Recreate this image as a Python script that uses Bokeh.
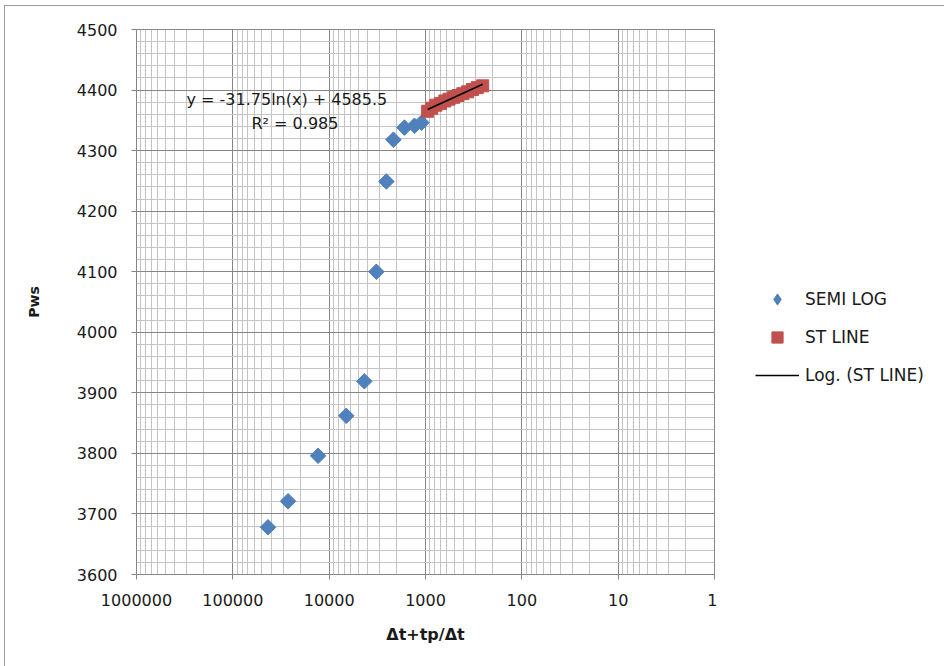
import numpy as np
from bokeh.plotting import figure
from bokeh.layouts import row
from bokeh.models import (Range1d, FixedTicker, SingleIntervalTicker, CustomJSTickFormatter,
                          Legend, LegendItem, Label)
from bokeh.embed import file_html
from bokeh.resources import INLINE

# ---- data ----
semi_log_x = [43150, 26700, 13030, 6650, 4315, 3236, 2547, 2154, 1655, 1303, 1101]
semi_log_y = [3678, 3721, 3796, 3862, 3919, 4100, 4249, 4318, 4338, 4341, 4346]

st_line_x = [950, 860, 780, 700, 630, 570, 510, 460, 410, 365, 325, 290, 255]
st_line_y = [4365, 4370, 4375, 4378, 4382, 4385, 4388, 4391, 4394, 4397, 4401, 4404, 4407]

trend_slope = -31.75
trend_intercept = 4585.5
trend_r2 = 0.985

x_major_ticks = [1, 10, 100, 1000, 10000, 100000, 1000000]
y_min, y_max, y_step = 3600, 4500, 100

# ---- derived ----
trend_x = [max(st_line_x), min(st_line_x)]
trend_y = [trend_slope * np.log(v) + trend_intercept for v in trend_x]
x_minor_ticks = [m * d for d in x_major_ticks[:-1] for m in range(2, 10)]

FONT = "DejaVu Sans"
TXT = "#1a1a1a"
MAJ = "#868686"
MIN = "#c4c4c4"
BLUE = "#4F81BD"
RED = "#C0504D"

OX, OY = 4, 5                         # outer chart border offset
FL, FR, FT, FB = 135, 713, 28, 573    # frame edges in window pixels
H = 666 - OY
W1 = FR - OX + 3
W2 = 944 - OX - W1 - 1

p = figure(width=W1, height=H, x_axis_type="log",
           x_range=Range1d(1000000, 1), y_range=Range1d(y_min, y_max),
           output_backend="svg", toolbar_location=None,
           min_border_left=FL - OX, min_border_right=3,
           min_border_top=FT - OY, min_border_bottom=666 - FB)
p.background_fill_color = "white"
p.border_fill_color = "white"
p.outline_line_color = MAJ

# x axis
p.xaxis.ticker = FixedTicker(ticks=x_major_ticks, minor_ticks=x_minor_ticks)
p.xaxis.formatter = CustomJSTickFormatter(code="return Math.round(tick).toString();")
p.xaxis.axis_label = "\u0394t+tp/\u0394t"
# y axis
p.yaxis.ticker = SingleIntervalTicker(interval=y_step, num_minor_ticks=5)

for ax in (p.xaxis[0], p.yaxis[0]):
    ax.axis_line_color = MAJ
    ax.major_tick_line_color = MAJ
    ax.major_tick_out = 5
    ax.major_tick_in = 0
    ax.minor_tick_out = 0
    ax.minor_tick_in = 0
    ax.major_label_text_font = FONT
    ax.major_label_text_font_size = "16px"
    ax.major_label_text_color = TXT
    ax.axis_label_text_font = FONT
    ax.axis_label_text_font_style = "bold"
    ax.axis_label_text_color = TXT

p.yaxis.axis_label = "Pws"
p.yaxis.axis_label_text_font_size = "14px"
p.yaxis.major_label_standoff = 14
p.yaxis.axis_label_standoff = 32
p.xaxis.major_label_standoff = 14
p.xaxis.axis_label_text_font_size = "16px"
p.xaxis.axis_label_standoff = 16

# grids
for g in (p.xgrid[0], p.ygrid[0]):
    g.grid_line_color = MAJ
    g.grid_line_width = 1
    g.minor_grid_line_color = MIN
    g.minor_grid_line_width = 1

# series
r_semi = p.scatter(semi_log_x, semi_log_y, marker="square", size=11, angle=np.pi / 4,
                   fill_color=BLUE, line_color=BLUE)
r_st = p.scatter(st_line_x, st_line_y, marker="square", size=12,
                 fill_color=RED, line_color=RED)
r_tr = p.line(trend_x, trend_y, line_color="black", line_width=1.5)

# trendline equation (screen units relative to the frame's bottom-left corner)
eq = Label(x=185 - FL, y=FB - 98, x_units="screen", y_units="screen",
           text=f"y = {trend_slope}ln(x) + {trend_intercept}",
           text_font=FONT, text_font_size="16px", text_color=TXT,
           text_baseline="middle")
r2 = Label(x=250 - FL, y=FB - 122, x_units="screen", y_units="screen",
           text=f"R\u00b2 = {trend_r2}",
           text_font=FONT, text_font_size="16px", text_color=TXT,
           text_baseline="middle")
p.add_layout(eq)
p.add_layout(r2)

# ---- legend panel (right of the plot area) ----
q = figure(width=W2, height=H, x_range=Range1d(0, 1), y_range=Range1d(0, 1),
           output_backend="svg", toolbar_location=None,
           x_axis_location=None, y_axis_location=None,
           min_border_left=0, min_border_right=0, min_border_top=0, min_border_bottom=0)
q.grid.visible = False
q.outline_line_color = None
q.background_fill_color = "white"
q.border_fill_color = "white"
k_semi = q.scatter([np.nan], [np.nan], marker="diamond", fill_color=BLUE, line_color=BLUE)
k_st = q.scatter([np.nan], [np.nan], marker="square", fill_color=RED, line_color=RED)
k_tr = q.line([np.nan, np.nan], [np.nan, np.nan], line_color="black", line_width=1.5)

q_left = OX + 1 + W1
legend = Legend(items=[LegendItem(label="SEMI LOG", renderers=[k_semi]),
                       LegendItem(label="ST LINE", renderers=[k_st]),
                       LegendItem(label="Log. (ST LINE)", renderers=[k_tr])],
                location=(755 - q_left, 185),
                glyph_width=44, glyph_height=28, spacing=10, label_standoff=6,
                padding=0, margin=0, border_line_color=None,
                background_fill_alpha=0,
                label_text_font=FONT, label_text_font_size="17px",
                label_text_color=TXT)
q.add_layout(legend, "center")

layout = row(p, q, margin=(OY, 0, 0, OX), spacing=0,
             styles={"border-left": "1px solid #9a9a9a", "border-top": "1px solid #9a9a9a"})

open("out.html", "w").write(file_html(layout, INLINE))
